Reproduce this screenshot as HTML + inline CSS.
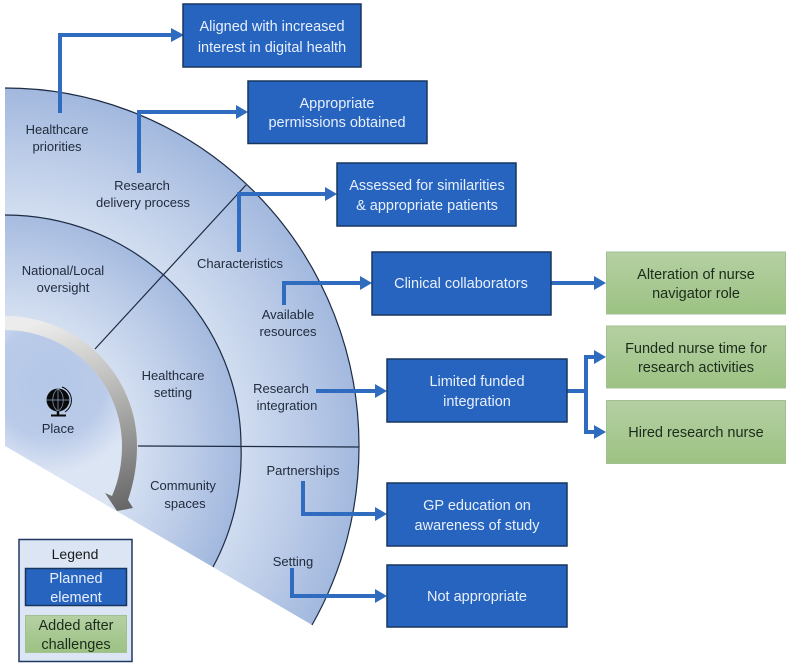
<!DOCTYPE html>
<html><head><meta charset="utf-8"><style>
html,body{margin:0;padding:0;background:#fff}
svg{display:block}
text{font-family:"Liberation Sans",sans-serif}
.l{font-size:13px;fill:#1f2a3a;text-anchor:middle}
.b{font-size:14.5px;fill:#e8f0fb;text-anchor:middle}
.g{font-size:14.5px;fill:#1c2b1c;text-anchor:middle}
.box{fill:#2764bf;stroke:#17365f;stroke-width:1.5}
.gr{fill:url(#green);stroke:#a3c093;stroke-width:1}
.c{fill:none;stroke:#2f6cc0;stroke-width:4}
.a{fill:#2f6cc0}
.s{fill:none;stroke:#1d2b44;stroke-width:1.2}
</style></head><body>
<svg width="789" height="668" viewBox="0 0 789 668" xmlns="http://www.w3.org/2000/svg">
<defs>
<radialGradient id="outer" gradientUnits="userSpaceOnUse" cx="5" cy="446" r="356">
<stop offset="0.64" stop-color="#d3dff1"/><stop offset="0.82" stop-color="#bccce8"/><stop offset="1" stop-color="#a2b8de"/></radialGradient>
<radialGradient id="mid" gradientUnits="userSpaceOnUse" cx="5" cy="446" r="238">
<stop offset="0.52" stop-color="#d6e1f2"/><stop offset="0.78" stop-color="#bccce8"/><stop offset="1" stop-color="#a2b8de"/></radialGradient>
<radialGradient id="inner" gradientUnits="userSpaceOnUse" cx="50" cy="382" r="92">
<stop offset="0" stop-color="#b4c7e7"/><stop offset="0.6" stop-color="#bacbe9"/><stop offset="1" stop-color="#dce5f4"/></radialGradient>
<linearGradient id="green" x1="0" y1="0" x2="0" y2="1"><stop offset="0" stop-color="#b5d0a3"/><stop offset="1" stop-color="#9cc283"/></linearGradient>
<linearGradient id="arrow" gradientUnits="userSpaceOnUse" x1="60" y1="316" x2="120" y2="510"><stop offset="0" stop-color="#ececec"/><stop offset="0.35" stop-color="#c2c2c0"/><stop offset="0.75" stop-color="#8a8a8a"/><stop offset="1" stop-color="#676767"/></linearGradient>
<clipPath id="wedge"><path d="M5 446L312 625L600 625L600 0L5 0Z"/></clipPath>
</defs>

<!-- wedge -->
<g clip-path="url(#wedge)">
<path d="M5 88A354 358 0 0 1 359 447A354 358 0 0 1 312 625L5 446Z" fill="url(#outer)"/>
<path d="M5 215A236 231 0 0 1 241 446A236 236 0 0 1 213 567L5 446Z" fill="url(#mid)"/>
<path d="M5 330A117 116 0 0 1 122 446A117 117 0 0 1 108 506L5 446Z" fill="url(#inner)"/>
</g>
<path class="s" d="M5 88A354 358 0 0 1 359 447A354 358 0 0 1 312 625"/>
<path class="s" d="M5 215A236 231 0 0 1 241 446A236 236 0 0 1 213 567"/>
<path class="s" d="M95 349L246 185M138 446L359 447"/>

<!-- curved arrow -->
<path d="M5 316A132 130 0 0 1 137 446C137 465 134 482 128 500L133 508L117 511L105 493L112 496C119 480 122 463 122 446A117 116 0 0 0 5 330Z" fill="url(#arrow)"/>

<!-- globe -->
<g transform="translate(58,400)">
<circle r="11.5" fill="#0a0a0a"/>
<path d="M-11.5 0H11.5M0 -11.5V11.5M0 -11.500C-7 -6 -7 6 0 11.500M0 -11.500C7 -6 7 6 0 11.500" stroke="#8fa3c4" stroke-width="0.7" fill="none"/>
<path d="M4 -13A14 14 0 0 1 7 12" stroke="#0a0a0a" stroke-width="1" fill="none"/>
<path d="M0 11V15" stroke="#0a0a0a" stroke-width="2.500" fill="none"/>
<path d="M-7 15.500H8" stroke="#0a0a0a" stroke-width="2" fill="none"/>
</g>

<!-- connectors -->
<path class="c" d="M60 113V35H175"/><path class="a" d="M171 28L184 35L171 42Z"/>
<path class="c" d="M139 173V112H240"/><path class="a" d="M236 105L248 112L236 119Z"/>
<path class="c" d="M239 252V194H329"/><path class="a" d="M325 187L337 194L325 201Z"/>
<path class="c" d="M284 305V283H364"/><path class="a" d="M360 276L372 283L360 290Z"/>
<path class="c" d="M316 391H379"/><path class="a" d="M375 384L387 391L375 398Z"/>
<path class="c" d="M551 283H598"/><path class="a" d="M594 276L606 283L594 290Z"/>
<path class="c" d="M567 391H586M598 357H586V432H598"/><path class="a" d="M594 350L606 357L594 364Z"/><path class="a" d="M594 425L606 432L594 439Z"/>
<path class="c" d="M303 481V514H379"/><path class="a" d="M375 507L387 514L375 521Z"/>
<path class="c" d="M292 568V596H379"/><path class="a" d="M375 589L387 596L375 603Z"/>

<!-- blue boxes -->
<rect class="box" x="183" y="4" width="178" height="63"/>
<rect class="box" x="248" y="81" width="179" height="62.500"/>
<rect class="box" x="337" y="163" width="179" height="63"/>
<rect class="box" x="372" y="252" width="179" height="63"/>
<rect class="box" x="387" y="359" width="180" height="63"/>
<rect class="box" x="387" y="483" width="180" height="63"/>
<rect class="box" x="387" y="565" width="180" height="62"/>
<text class="b" x="272" y="31">Aligned with increased</text><text class="b" x="272" y="52">interest in digital health</text>
<text class="b" x="337" y="108">Appropriate</text><text class="b" x="337" y="127">permissions obtained</text>
<text class="b" x="427" y="190">Assessed for similarities</text><text class="b" x="427" y="210">&amp; appropriate patients</text>
<text class="b" x="461" y="288">Clinical collaborators</text>
<text class="b" x="477" y="386">Limited funded</text><text class="b" x="477" y="406">integration</text>
<text class="b" x="477" y="510">GP education on</text><text class="b" x="477" y="530">awareness of study</text>
<text class="b" x="477" y="601">Not appropriate</text>

<!-- green boxes -->
<rect class="gr" x="606.500" y="252" width="179" height="62"/>
<rect class="gr" x="606.500" y="326" width="179" height="62"/>
<rect class="gr" x="606.500" y="400.500" width="179" height="63"/>
<text class="g" x="696" y="279">Alteration of nurse</text><text class="g" x="696" y="298">navigator role</text>
<text class="g" x="696" y="353">Funded nurse time for</text><text class="g" x="696" y="372">research activities</text>
<text class="g" x="696" y="437">Hired research nurse</text>

<!-- wedge labels -->
<text class="l" x="57" y="134">Healthcare</text><text class="l" x="57" y="151">priorities</text>
<text class="l" x="142" y="190">Research</text><text class="l" x="143" y="207">delivery process</text>
<text class="l" x="63" y="275">National/Local</text><text class="l" x="63" y="292">oversight</text>
<text class="l" x="240" y="268">Characteristics</text>
<text class="l" x="288" y="319">Available</text><text class="l" x="288" y="336">resources</text>
<text class="l" x="173" y="380">Healthcare</text><text class="l" x="173" y="397">setting</text>
<text class="l" x="281" y="393">Research</text><text class="l" x="287" y="410">integration</text>
<text class="l" x="58" y="433">Place</text>
<text class="l" x="183" y="490">Community</text><text class="l" x="185" y="508">spaces</text>
<text class="l" x="303" y="475">Partnerships</text>
<text class="l" x="293" y="566">Setting</text>

<!-- legend -->
<rect x="19" y="539.500" width="113" height="122" fill="#dbe5f4" stroke="#203864" stroke-width="1.500"/>
<text x="75" y="559" style="font-size:14px;fill:#1a1a1a;text-anchor:middle">Legend</text>
<rect x="25.500" y="568.500" width="101" height="37" class="box"/>
<text class="b" x="76" y="583">Planned</text><text class="b" x="76" y="602">element</text>
<rect x="25.500" y="615.500" width="101" height="37" class="gr"/>
<text class="g" x="76" y="630">Added after</text><text class="g" x="76" y="649">challenges</text>
</svg>
</body></html>
